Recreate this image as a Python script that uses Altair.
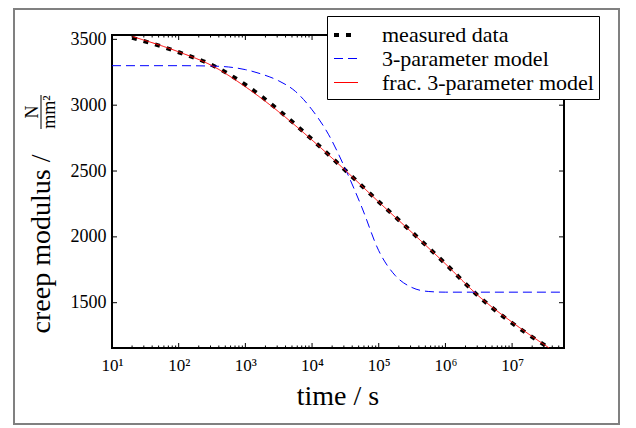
import altair as alt
import pandas as pd

# ---- data ----
series_names = ["measured data", "3-parameter model", "frac. 3-parameter model"]

meas_time = [20, 56, 100, 316, 1000, 3160, 10000, 31600, 100000, 316000,
             1000000, 3160000, 7400000, 34700000]
meas_mod = [3512, 3445, 3402, 3305, 3155, 2962, 2740, 2505, 2267, 2035,
            1796, 1548, 1394, 1161]

blue_time = [10, 100, 316, 562, 1000, 1778, 3162, 5623, 10000, 17783, 31623,
             56234, 100000, 177828, 316228, 562341, 1000000, 60000000]
blue_mod = [3300, 3300, 3297, 3290, 3270, 3235, 3185, 3105, 2965, 2775, 2515,
            2220, 1895, 1705, 1615, 1585, 1580, 1580]

red_time = [20, 100, 316, 1000, 3160, 10000, 31600, 100000, 316000, 1000000,
            3160000, 10000000, 36000000]
red_mod = [3522, 3405, 3300, 3140, 2950, 2735, 2505, 2265, 2032, 1795,
           1550, 1352, 1156]

y_ticks = [1500, 2000, 2500, 3000, 3500]
x_major = [10, 100, 1000, 10000, 100000, 1000000, 10000000]
x_minor = [m * d for d in x_major for m in range(2, 10) if m * d <= 6e7]

rows = []
for t, e in zip(meas_time, meas_mod):
    rows.append({"t": t, "E": e, "series": series_names[0]})
for t, e in zip(blue_time, blue_mod):
    rows.append({"t": t, "E": e, "series": series_names[1]})
for t, e in zip(red_time, red_mod):
    rows.append({"t": t, "E": e, "series": series_names[2]})
df = pd.DataFrame(rows)

W, H = 452, 313
FONT = "Liberation Serif"

x_scale = alt.Scale(type="log", domain=[10, 6e7], nice=False)
y_scale = alt.Scale(domain=[1156, 3533], nice=False, zero=False)

sup = "['⁰','¹','²','³','⁴','⁵','⁶','⁷','⁸','⁹']"

x_axis = alt.Axis(values=x_major, ticks=False, domain=False, grid=False,
                  labelExpr="'10' + " + sup + "[round(log(datum.value)/LN10)]",
                  labelFont=FONT, labelFontSize=17, labelColor="black",
                  labelPadding=9, labelFlush=False, title=None)
y_axis = alt.Axis(values=y_ticks, ticks=False, domain=False, grid=False, format="d",
                  labelFont=FONT, labelFontSize=18, labelColor="black",
                  labelPadding=6, title=None)

leg = alt.Legend(title=None, labelFont=FONT, labelFontSize=22, labelColor="black")

lines = alt.Chart(df).mark_line(interpolate="monotone", clip=True).encode(
    x=alt.X("t:Q", scale=x_scale, axis=x_axis),
    y=alt.Y("E:Q", scale=y_scale, axis=y_axis),
    color=alt.Color("series:N", sort=series_names,
                    scale=alt.Scale(domain=series_names, range=["black", "#0000ff", "#ff0000"]),
                    legend=leg),
    strokeDash=alt.StrokeDash("series:N", sort=series_names,
                              scale=alt.Scale(domain=series_names, range=[[5, 7], [9, 5], [1, 0]]),
                              legend=leg),
    strokeWidth=alt.StrokeWidth("series:N", sort=series_names,
                                scale=alt.Scale(type="ordinal", domain=series_names, range=[4, 1, 1]),
                                legend=leg),
)

ydf = pd.DataFrame({"E": y_ticks})
xmaj = pd.DataFrame({"t": x_major})
xmin = pd.DataFrame({"t": x_minor})

def yrule(x0, x1):
    return alt.Chart(ydf).mark_rule(color="black", strokeWidth=1).encode(
        y=alt.Y("E:Q", scale=y_scale, axis=y_axis), x=alt.value(x0), x2=alt.value(x1))

def xrule(d, y0, y1):
    return alt.Chart(d).mark_rule(color="black", strokeWidth=1).encode(
        x=alt.X("t:Q", scale=x_scale, axis=x_axis), y=alt.value(y0), y2=alt.value(y1))

ticks = [
    yrule(0, 5), yrule(W - 5, W),
    xrule(xmaj, H, H - 5), xrule(xmaj, 0, 5),
    xrule(xmin, H, H - 2.5), xrule(xmin, 0, 2.5),
]

one = pd.DataFrame({"d": [0]})
xtitle = alt.Chart(one).mark_text(text="time / s", font=FONT, fontSize=28,
                                  align="center", baseline="alphabetic", color="black").encode(
    x=alt.value(W / 2), y=alt.value(370))
ytitle = alt.Chart(one).mark_text(text="creep modulus /", font=FONT, fontSize=28, angle=270,
                                  align="center", baseline="alphabetic", color="black").encode(
    x=alt.value(-62), y=alt.value(209))
num = alt.Chart(one).mark_text(text="N", font=FONT, fontSize=18, angle=270,
                               align="center", baseline="alphabetic", color="black").encode(
    x=alt.value(-74), y=alt.value(77))
den = alt.Chart(one).mark_text(text="mm²", font=FONT, fontSize=18, angle=270,
                               align="center", baseline="alphabetic", color="black").encode(
    x=alt.value(-57), y=alt.value(77))
bar = alt.Chart(one).mark_rule(color="black", strokeWidth=1).encode(
    x=alt.value(-71), y=alt.value(60), y2=alt.value(94))
frame = alt.Chart(one).mark_rect(fillOpacity=0, stroke="#808080", strokeWidth=2).encode(
    x=alt.value(-98), x2=alt.value(507), y=alt.value(-26), y2=alt.value(389))

chart = alt.layer(lines, frame, *ticks, xtitle, ytitle, num, den, bar).properties(
    width=W, height=H,
    autosize=alt.AutoSizeParams(type="none"),
    padding={"left": 104, "top": 27, "right": 57, "bottom": 78},
).configure_view(
    stroke="black", strokeWidth=2
).configure_axis(
    labelFont=FONT, labelColor="black"
).configure_legend(
    orient="none", legendX=215, legendY=-19,
    strokeColor="black", fillColor="white", padding=5, cornerRadius=0,
    symbolType="stroke", symbolSize=576, labelFont=FONT, labelFontSize=22,
    labelColor="black", labelOffset=22, rowPadding=0, labelLimit=400,
)

chart.save("out.html", embed_options={"renderer": "svg", "actions": False})
